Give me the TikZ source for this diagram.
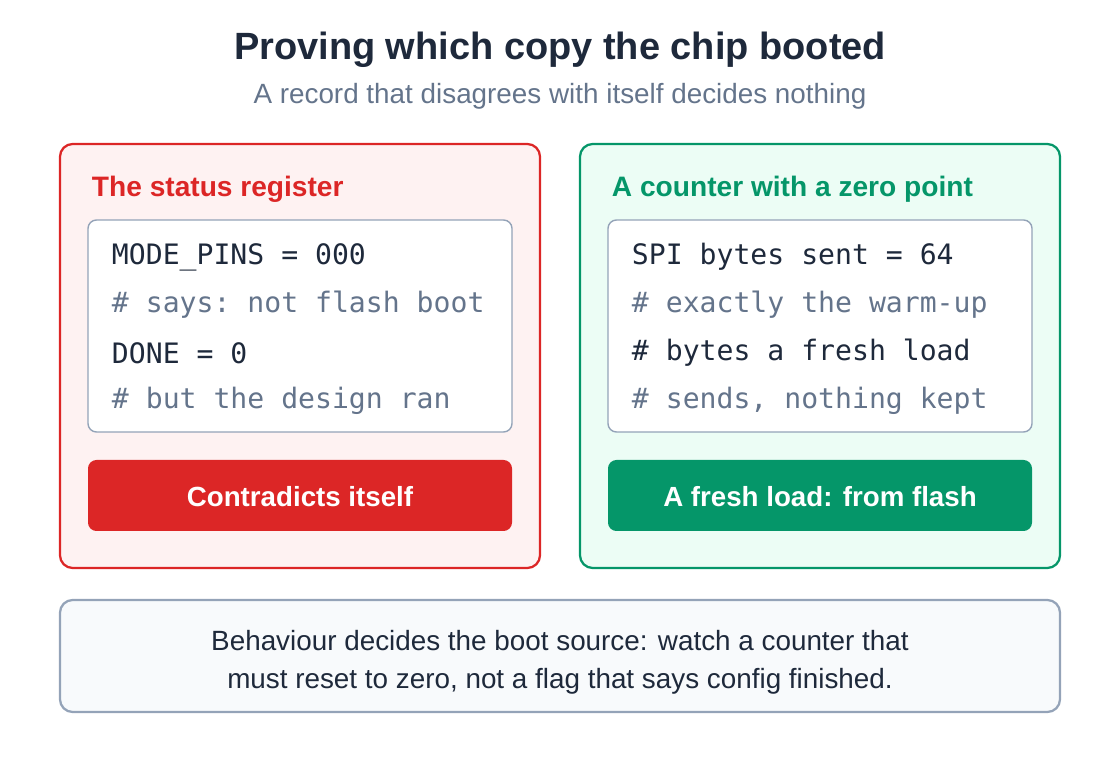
\documentclass[tikz,border=0pt]{standalone}
\usepackage{fontspec}
\setmainfont{Liberation Sans}
\setmonofont{DejaVu Sans Mono}
\usetikzlibrary{positioning}
\definecolor{ink}{HTML}{1E293B}
\definecolor{muted}{HTML}{64748B}
\definecolor{slate}{HTML}{94A3B8}
\definecolor{alarm}{HTML}{DC2626}
\definecolor{alarmbg}{HTML}{FEF2F2}
\definecolor{okay}{HTML}{059669}
\definecolor{okaybg}{HTML}{ECFDF5}
\definecolor{notebg}{HTML}{F8FAFC}
\tikzset{
  panel/.style={draw=#1, line width=1.6pt, rounded corners=9pt},
  codebox/.style={draw=slate, fill=white, line width=1pt, rounded corners=6pt},
  heading/.style={anchor=west, font=\fontsize{20}{24}\selectfont\bfseries, text=#1},
  codeline/.style={anchor=west, font=\fontsize{20}{24}\selectfont\ttfamily, text=#1},
  button/.style={fill=#1, rounded corners=6pt},
  buttontext/.style={font=\fontsize{19.7}{24}\selectfont\bfseries, text=white}
}
\begin{document}
\begin{tikzpicture}[x=0.025cm, y=-0.025cm]
  \useasboundingbox (0,0) rectangle (1120,760);

  % Title
  \node (title) at (560,50) {\fontsize{27}{32}\selectfont\bfseries\color{ink}Proving which copy the chip booted};
  \node (subtitle) at (560,96) {\fontsize{19.8}{24}\selectfont\color{muted}A record that disagrees with itself decides nothing};

  % Left panel
  \draw[panel=alarm, fill=alarmbg] (60,144) rectangle (540,568);
  \node[heading=alarm] (lefthead) at (87,189) {The status register};
  \draw[codebox] (88,220) rectangle (512,432);
  \node[codeline=ink] (l1) at (107,257) {MODE\_PINS = 000};
  \node[codeline=muted] (l2) at (107,305) {\# says: not flash boot};
  \node[codeline=ink] (l3) at (107,353) {DONE = 0};
  \node[codeline=muted] (l4) at (107,401) {\# but the design ran};
  \fill[button=alarm] (88,460) rectangle (512,531);
  \node[buttontext] (leftbtn) at (300,497) {Contradicts itself};

  % Right panel
  \draw[panel=okay, fill=okaybg] (580,144) rectangle (1060,568);
  \node[heading=okay] (righthead) at (607,189) {A counter with a zero point};
  \draw[codebox] (608,220) rectangle (1032,432);
  \node[codeline=ink] (r1) at (627,257) {SPI bytes sent = 64};
  \node[codeline=muted] (r2) at (627,305) {\# exactly the warm-up};
  \node[codeline=ink] (r3) at (627,353) {\# bytes a fresh load};
  \node[codeline=muted] (r4) at (627,401) {\# sends, nothing kept};
  \fill[button=okay] (608,460) rectangle (1032,531);
  \node[buttontext] (rightbtn) at (820,497) {A fresh load: from flash};

  % Footer
  \draw[draw=slate, fill=notebg, line width=1.6pt, rounded corners=9pt] (60,600) rectangle (1060,712);
  \node[align=center, font=\fontsize{19.8}{27}\selectfont, text=ink] (footer) at (560,662)
    {Behaviour decides the boot source: watch a counter that\\must reset to zero, not a flag that says config finished.};
\end{tikzpicture}
\end{document}
